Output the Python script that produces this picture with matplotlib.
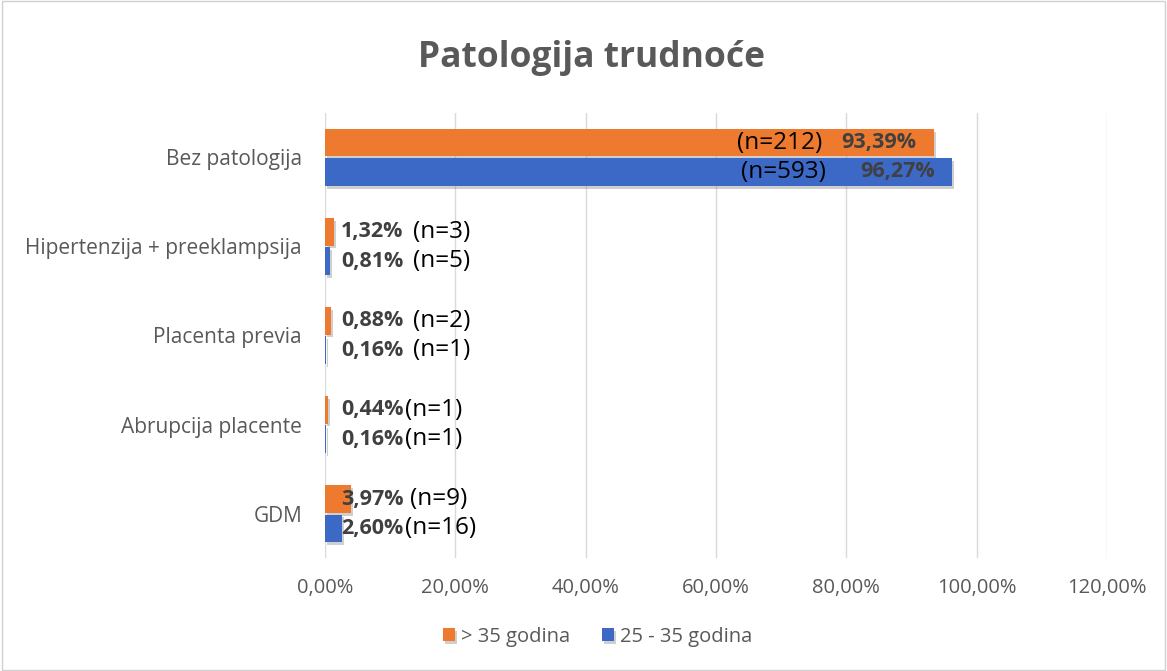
import matplotlib
matplotlib.use("Agg")
import numpy as np
from matplotlib import pyplot as plt
from matplotlib.patches import Rectangle
import matplotlib.patheffects as pe

plt.rcParams['font.family'] = ['Open Sans', 'DejaVu Sans']

categories = ["Bez patologija", "Hipertenzija + preeklampsija", "Placenta previa",
              "Abrupcija placente", "GDM"]
older = [93.39, 1.32, 0.88, 0.44, 3.97]
older_n = [212, 3, 2, 1, 9]
younger = [96.27, 0.81, 0.16, 0.16, 2.60]
younger_n = [593, 5, 1, 1, 16]
series_names = ["> 35 godina", "25 - 35 godina"]
xticks = [0, 20, 40, 60, 80, 100, 120]

orange = "#EE7A2F"
blue = "#3D69C6"
gray = "#595959"

fig = plt.figure(figsize=(11.67, 6.71), dpi=100)
fig.patches.append(Rectangle((0.002, 0.002), 0.996, 0.996, transform=fig.transFigure,
                             fill=False, edgecolor="#d0d0d0", linewidth=1))
ax = fig.add_axes([0.2785, 0.168, 0.670, 0.664])

y = np.arange(len(categories))
h = 0.31
y_old = y - h / 2 - 0.01
y_young = y + h / 2 + 0.01
shadow = [pe.SimplePatchShadow(offset=(1.5, -2), shadow_rgbFace="#888888", alpha=0.4), pe.Normal()]
b1 = ax.barh(y_old, older, height=h, color=orange, label=series_names[0], zorder=3)
b2 = ax.barh(y_young, younger, height=h, color=blue, label=series_names[1], zorder=3)
for b in list(b1) + list(b2):
    b.set_path_effects(shadow)

ax.set_xlim(0, 120)
ax.set_ylim(len(categories) - 0.5, -0.5)
ax.set_xticks(xticks)
ax.set_xticklabels([f"{t:.2f}%".replace(".", ",") for t in xticks], color=gray, fontsize=14.5)
ax.set_yticks(y)
ax.set_yticklabels(categories, color=gray, fontsize=15)
ax.tick_params(length=0, pad=14, axis='x')
ax.tick_params(length=0, pad=16.5, axis='y')
ax.grid(axis='x', color="#d9d9d9", linewidth=1, zorder=0)
for s in ax.spines.values():
    s.set_visible(False)

def pct(v):
    return f"{v:.2f}%".replace(".", ",")

# pixel offsets of the "(n=..)" labels for the small bars
n_off = [(0, 0), (88, 88), (88, 88), (80, 80), (85, 80)]
# pixel offsets for the big bar labels (from bar end)
big_n_off = (-111, -126)

for i in range(len(categories)):
    rows = [(older[i], older_n[i], y_old[i], 0), (younger[i], younger_n[i], y_young[i], 1)]
    for v, n, yy, k in rows:
        if v > 50:
            ax.annotate(pct(v), (v, yy), xytext=(-17, 0), textcoords="offset pixels",
                        ha="right", va="center", fontsize=15.5, fontweight="bold", color="#404040", zorder=5)
            ax.annotate(f"(n={n})", (v, yy), xytext=(big_n_off[k], 0), textcoords="offset pixels",
                        ha="right", va="center", fontsize=17.5, color="black", zorder=5)
        else:
            ax.annotate(pct(v), (0, yy), xytext=(16, 0), textcoords="offset pixels",
                        ha="left", va="center", fontsize=15.5, fontweight="bold", color="#404040", zorder=5)
            ax.annotate(f"(n={n})", (0, yy), xytext=(n_off[i][k], 0), textcoords="offset pixels",
                        ha="left", va="center", fontsize=17.5, color="black", zorder=5)

fig.suptitle("Patologija trudnoće", x=0.507, y=0.94, fontsize=25.5, fontweight="bold", color=gray)

leg = fig.legend(handles=[b1, b2], loc="center", bbox_to_anchor=(0.512, 0.051), ncol=2,
                 frameon=False, fontsize=14.5, handlelength=0.6, handleheight=0.6,
                 handletextpad=0.3, columnspacing=1.6)
for t in leg.get_texts():
    t.set_color(gray)

fig.savefig("out.png", dpi=100)
